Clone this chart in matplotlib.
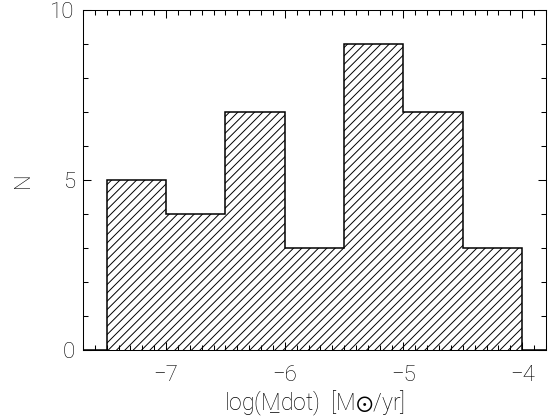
import numpy as np
import matplotlib
matplotlib.use("Agg")
import matplotlib.pyplot as plt
from matplotlib.ticker import MultipleLocator

# histogram of log mass-loss rates
bin_edges = [-7.5, -7.0, -6.5, -6.0, -5.5, -5.0, -4.5, -4.0]
counts = [5, 4, 7, 3, 9, 7, 3]

x_range = (-7.7, -3.8)
y_range = (0, 10)

plt.rcParams['font.family'] = ['Roboto', 'DejaVu Sans']
plt.rcParams['font.weight'] = 'light'
plt.rcParams['axes.labelweight'] = 'light'
plt.rcParams['hatch.linewidth'] = 0.7
plt.rcParams['hatch.color'] = '#333333'

fig = plt.figure(figsize=(5.52, 4.19), dpi=100)
ax = fig.add_axes([0.1504, 0.1647, 0.989 - 0.1504, 0.976 - 0.1647])

widths = np.diff(bin_edges)
ax.bar(bin_edges[:-1], counts, width=widths, align='edge', fill=False,
       hatch='////', linewidth=0)

# outline, with the zero level carried out to the plot edges
step_vals = [0] + counts + [0]
step_edges = [x_range[0]] + bin_edges + [x_range[1]]
ax.stairs(step_vals, step_edges, color='black', linewidth=1.1)

ax.set_xlim(x_range)
ax.set_ylim(y_range)

ax.xaxis.set_major_locator(MultipleLocator(1))
ax.xaxis.set_minor_locator(MultipleLocator(0.1))
ax.yaxis.set_major_locator(MultipleLocator(5))
ax.yaxis.set_minor_locator(MultipleLocator(1))

ax.tick_params(which='both', direction='in', top=True, right=True, width=0.75)
ax.tick_params(axis='x', which='major', length=6, pad=11, labelsize=16)
ax.tick_params(axis='x', which='minor', length=3.5)
ax.tick_params(axis='y', which='major', length=6, pad=6, labelsize=16)
ax.tick_params(axis='y', which='minor', length=3.5)

for sp in ax.spines.values():
    sp.set_linewidth(0.75)

ax.set_xlabel('log(M\u0332dot)  [M$\\odot$/yr]', fontsize=16.5, labelpad=2)
ax.set_ylabel('N', fontsize=16, labelpad=12)

fig.savefig('out.png', dpi=100)
